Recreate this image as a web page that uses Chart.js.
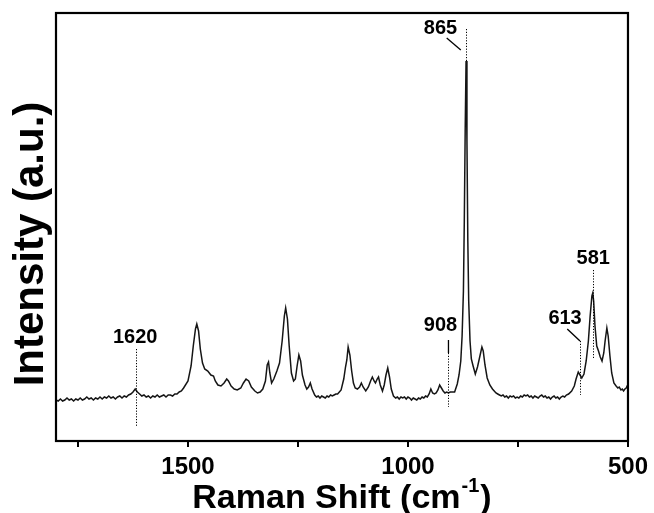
<!DOCTYPE html>
<html>
<head>
<meta charset="utf-8">
<script src="https://cdn.jsdelivr.net/npm/chart.js@4/dist/chart.umd.min.js"></script>
<style>
  html, body { margin: 0; padding: 0; background: #fff; }
  #wrap { width: 654px; height: 513px; position: relative; }
</style>
</head>
<body>
<div id="wrap"><canvas id="c" width="654" height="513"></canvas></div>
<script>
// ---- data ----
// each line of wavenumbers pairs with the same line of intensity
const wavenumbers = [
  1800,1795,1790,1785,1780,1775,1770,1765,1760,1755,1750,1745,1740,1735,1730,1725,1720,1715,1710,1705,
  1700,1695,1690,1685,1680,1675,1670,1665,1660,1655,1650,1645,1640,1635,1630,1625,1620,1615,1610,1605,
  1600,1595,1590,1585,1580,1575,1570,1565,1560,1555,1550,1545,1540,1535,1530,1525,1520,1515,1510,
  1500,1493,1488,1483,1480,1476,1472,1467,1462,1455,1448,1442,1438,1432,1425,1418,1412,1408,1402,1395,
  1388,1380,1374,1368,1362,1356,1348,1342,1336,1330,1324,1320,1317,1314,1310,1305,1298,1292,1286,1281,
  1278,1274,1270,1265,1260,1256,1252,1248,1244,1240,1234,1230,1226,1222,1218,
  1212,1208,1204,1200,1196,1192,1188,1184,1180,1176,1172,1168,1164,1160,1156,1152,
  1146,1142,1139,1136,1132,1128,1124,1120,1115,1110,1106,1102,1096,1090,1085,1081,1077,1074,1070,1067,
  1063,1058,1054,1050,1046,1042,1038,
  1033,1028,1024,1020,1016,1012,1008,1004,1000,996,992,988,984,980,976,972,968,964,960,956,952,
  948,944,940,936,932,928,924,920,916,912,908,904,900,
  894,888,884,880,877,874,872,870,868,866,864,862,859,856,852,847,842,837,832,829,825,820,814,
  808,804,800,796,792,788,784,780,776,772,768,764,760,756,752,748,744,740,736,732,
  728,724,720,716,712,708,704,700,696,692,688,684,680,676,672,668,664,660,656,652,648,644,640,635,
  628,622,618,613,609,605,600,595,590,586,582,580,578,575,571,567,563,559,555,552,
  548,545,541,537,532,527,523,520,516,513,510,507,504,502,500
];
const intensity = [
  41,40,42,40,41,43,41,42,40,42,41,43,41,42,44,42,43,41,43,42,
  44,42,44,43,45,43,44,42,44,45,43,45,44,46,47,49,52,49,47,45,
  46,44,45,43,45,44,46,44,45,46,44,46,46,45,47,47,49,50,53,
  60,75,95,112,117,110,92,78,72,70,66,65,60,56,55,58,62,60,55,52,
  51,53,58,62,60,54,50,48,49,52,60,76,79,68,58,62,70,78,100,125,
  133,122,95,68,60,62,75,86,80,66,56,52,54,58,52,
  46,44,45,43,45,44,43,45,44,46,45,46,47,47,49,51,
  62,74,81,94,86,70,58,53,52,54,58,54,50,54,60,64,60,58,62,64,
  56,50,56,66,73,64,52,
  45,43,44,42,44,43,44,42,44,43,41,43,42,41,43,42,44,43,45,44,47,
  52,48,47,48,51,56,53,50,48,49,48,49,49,
  49,57,66,80,105,150,220,310,380,300,200,140,100,82,75,67,74,84,94,90,76,63,56,
  52,50,48,47,46,45,46,44,45,43,45,44,45,43,44,43,45,44,46,45,
  46,44,45,43,45,44,43,45,46,44,45,43,44,42,44,45,43,44,42,44,45,44,46,47,
  50,55,62,69,66,63,67,80,100,125,145,148,140,115,95,90,84,80,88,100,
  113,105,85,68,58,55,53,54,51,52,50,52,53,55,56
];
const xMin = 1800, xMax = 500;
const yMin = 0, yMax = 428;
const xTickValues = [1750, 1500, 1250, 1000, 750, 500];
const majorTickValues = [1500, 1000, 500];
const xTitle = 'Raman Shift (cm';
const xTitleSup = '-1';
const yTitle = 'Intensity (a.u.)';

// peak annotations (data coordinates: wavenumber / intensity)
const peakLabels  = ['1620', '908', '865', '613', '581'];
const peakLines   = [1619, 908, 868, 609, 579];
const labelWave   = [1620, 926, 926, 643, 579];
const labelInt    = [104, 116, 413, 123, 183];
const dotTop      = [92, 88, 412, 100, 171];
const dotBottom   = [14, 34, 380, 46, 83];
const leaders     = [null, [908, 101, 908, 88], [912, 403, 880, 391], [638, 112, 609, 100], null];

const points = wavenumbers.map((w, i) => ({ x: w, y: intensity[i] }));
const FONT = "'Liberation Sans', Arial, Helvetica, sans-serif";

const decorPlugin = {
  id: 'decor',
  afterDatasetsDraw(chart) {
    const { ctx, chartArea: a, scales: { x, y } } = chart;
    ctx.save();
    ctx.strokeStyle = '#000';
    for (let i = 0; i < peakLabels.length; i++) {
      const px = x.getPixelForValue(peakLines[i]);
      ctx.setLineDash([1.2, 1.6]);
      ctx.lineWidth = 1;
      ctx.beginPath();
      ctx.moveTo(Math.round(px) + 0.5, y.getPixelForValue(dotTop[i]));
      ctx.lineTo(Math.round(px) + 0.5, y.getPixelForValue(dotBottom[i]));
      ctx.stroke();
      ctx.setLineDash([]);
      if (leaders[i]) {
        const L = leaders[i];
        ctx.lineWidth = 1.3;
        ctx.beginPath();
        ctx.moveTo(x.getPixelForValue(L[0]), y.getPixelForValue(L[1]));
        ctx.lineTo(x.getPixelForValue(L[2]), y.getPixelForValue(L[3]));
        ctx.stroke();
      }
      ctx.fillStyle = '#000';
      ctx.font = 'bold 20px ' + FONT;
      ctx.textAlign = 'center';
      ctx.textBaseline = 'middle';
      ctx.fillText(peakLabels[i], x.getPixelForValue(labelWave[i]), y.getPixelForValue(labelInt[i]));
    }
    // frame
    ctx.lineWidth = 2.2;
    ctx.strokeStyle = '#000';
    ctx.strokeRect(a.left, a.top, a.right - a.left, a.bottom - a.top);
    // x title with superscript
    ctx.fillStyle = '#000';
    ctx.textBaseline = 'alphabetic';
    ctx.textAlign = 'left';
    const mainFont = 'bold 34px ' + FONT;
    const supFont = 'bold 20px ' + FONT;
    ctx.font = mainFont;
    const w1 = ctx.measureText(xTitle).width;
    const w3 = ctx.measureText(')').width;
    ctx.font = supFont;
    const w2 = ctx.measureText(xTitleSup).width;
    const total = w1 + w2 + w3 + 2;
    const sx = (a.left + a.right) / 2 - total / 2;
    const base = 508;
    ctx.font = mainFont;
    ctx.fillText(xTitle, sx, base);
    ctx.font = supFont;
    ctx.fillText(xTitleSup, sx + w1 + 1, base - 16);
    ctx.font = mainFont;
    ctx.fillText(')', sx + w1 + w2 + 2, base);
    // y title
    ctx.save();
    ctx.translate(31, 244);
    ctx.rotate(-Math.PI / 2);
    ctx.font = 'bold 42px ' + FONT;
    ctx.textAlign = 'center';
    ctx.textBaseline = 'middle';
    ctx.fillText(yTitle, 0, 0);
    ctx.restore();
    ctx.restore();
  }
};

new Chart(document.getElementById('c'), {
  type: 'line',
  data: {
    datasets: [{
      data: points,
      borderColor: '#151515',
      borderWidth: 1.5,
      pointRadius: 0,
      tension: 0,
      fill: false
    }]
  },
  options: {
    responsive: false,
    animation: false,
    events: [],
    layout: { padding: { top: 13, right: 23, left: 0, bottom: 0 } },
    plugins: { legend: { display: false }, tooltip: { enabled: false } },
    scales: {
      x: {
        type: 'linear',
        min: xMax,
        max: xMin,
        reverse: true,
        afterFit(s) { s.height = 72; },
        afterBuildTicks(s) {
          s.ticks = xTickValues.map(v => ({ value: v }));
        },
        ticks: {
          autoSkip: false,
          maxRotation: 0,
          padding: 6,
          color: '#000',
          font: { family: FONT, size: 24, weight: 'bold' },
          callback: v => majorTickValues.includes(v) ? String(v) : ''
        },
        grid: { drawOnChartArea: false, drawTicks: true, tickLength: 6, color: '#000', lineWidth: 2 },
        border: { display: false }
      },
      y: {
        min: yMin,
        max: yMax,
        afterFit(s) { s.width = 56; },
        ticks: { display: false },
        grid: { display: false, drawTicks: false },
        border: { display: false }
      }
    }
  },
  plugins: [decorPlugin]
});
</script>
</body>
</html>
